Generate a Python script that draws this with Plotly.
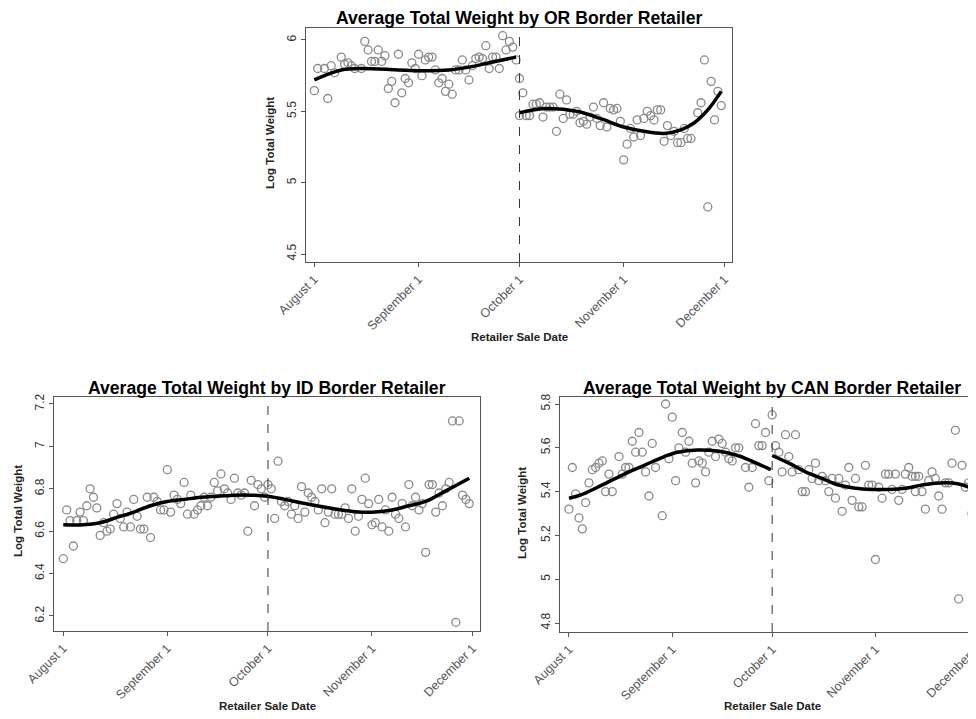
import plotly.graph_objects as go

# ---------------- data (days since August 1) ----------------
month_ticks = [0, 31, 61, 92, 122]
month_labels = ["August 1", "September 1", "October 1", "November 1", "December 1"]
cutoff_day = 61  # October 1

or_day = [0, 1, 3, 4, 5, 6, 8, 9, 10, 11, 12, 14, 15, 16, 17, 18, 19, 20, 21, 22, 23, 24, 25, 26, 27, 28, 29, 30,
          31, 32, 33, 34, 35, 36, 37, 38, 39, 40, 41, 42, 43, 44, 45, 46, 47, 48, 49, 50, 51, 52, 53, 54, 55, 56,
          57, 58, 59, 60, 61, 61, 62, 63, 64, 65, 66, 67, 68, 69, 70, 71, 72, 73, 74, 75, 76, 77, 78, 79, 80, 81,
          82, 83, 84, 85, 86, 87, 88, 89, 90, 91, 92, 93, 94, 95, 96, 97, 98, 99, 100, 101, 102, 103, 104, 105,
          106, 107, 108, 109, 110, 111, 112, 114, 115, 116, 117, 118, 119, 120, 121]
or_val = [5.645, 5.80, 5.80, 5.59, 5.82, 5.77, 5.88, 5.83, 5.84, 5.82, 5.80, 5.80, 5.99, 5.93, 5.85, 5.85, 5.93,
          5.85, 5.89, 5.66, 5.71, 5.56, 5.90, 5.63, 5.73, 5.70, 5.84, 5.80, 5.90, 5.75, 5.86, 5.88, 5.88, 5.79,
          5.70, 5.73, 5.64, 5.69, 5.62, 5.79, 5.79, 5.86, 5.79, 5.72, 5.82, 5.87, 5.88, 5.87, 5.96, 5.80, 5.88,
          5.88, 5.80, 6.03, 5.93, 5.99, 5.95, 5.86, 5.73, 5.47, 5.63, 5.47, 5.47, 5.55, 5.55, 5.56, 5.46, 5.53,
          5.53, 5.53, 5.36, 5.62, 5.45, 5.58, 5.48, 5.48, 5.50, 5.42, 5.43, 5.41, 5.46, 5.53, 5.45, 5.40, 5.56,
          5.39, 5.52, 5.51, 5.52, 5.43, 5.16, 5.27, 5.38, 5.32, 5.44, 5.33, 5.45, 5.50, 5.47, 5.44, 5.51, 5.51,
          5.29, 5.40, 5.33, 5.36, 5.28, 5.28, 5.38, 5.31, 5.31, 5.49, 5.56, 5.86, 4.83, 5.71, 5.44, 5.64, 5.54]
or_fit_pre_day = [0, 3, 8, 14, 25, 32, 40, 46, 52, 60]
or_fit_pre_val = [5.72, 5.75, 5.79, 5.80, 5.79, 5.785, 5.79, 5.81, 5.84, 5.88]
or_fit_post_day = [61, 65, 70, 78, 85, 92, 98, 104, 109, 113, 117, 121]
or_fit_post_val = [5.49, 5.51, 5.52, 5.50, 5.45, 5.39, 5.36, 5.345, 5.37, 5.42, 5.51, 5.64]

id_day = list(range(0, 122))
id_val = [6.47, 6.70, 6.65, 6.53, 6.65, 6.69, 6.65, 6.72, 6.80, 6.76, 6.71, 6.58, 6.64, 6.60, 6.61, 6.68, 6.73,
          6.66, 6.62, 6.69, 6.62, 6.75, 6.67, 6.61, 6.61, 6.76, 6.57, 6.76, 6.74, 6.70, 6.70, 6.89, 6.69, 6.77,
          6.75, 6.73, 6.83, 6.68, 6.77, 6.68, 6.70, 6.72, 6.76, 6.72, 6.76, 6.83, 6.79, 6.87, 6.80, 6.78, 6.75,
          6.85, 6.78, 6.77, 6.78, 6.60, 6.84, 6.72, 6.82, 6.80, 6.76, 6.82, 6.80, 6.66, 6.93, 6.74, 6.72, 6.74,
          6.68, 6.72, 6.66, 6.81, 6.69, 6.78, 6.76, 6.74, 6.70, 6.80, 6.64, 6.69, 6.80, 6.68, 6.68, 6.68, 6.71,
          6.66, 6.80, 6.60, 6.67, 6.75, 6.85, 6.73, 6.63, 6.64, 6.75, 6.62, 6.70, 6.60, 6.76, 6.68, 6.66, 6.73,
          6.62, 6.82, 6.72, 6.76, 6.70, 6.73, 6.50, 6.82, 6.82, 6.69, 6.78, 6.72, 6.80, 6.83, 7.12, 6.17, 7.12,
          6.77, 6.75, 6.73]
id_fit_day = [0, 6, 11, 16, 21, 26, 31, 36, 41, 46, 51, 56, 61, 69, 79, 88, 93, 98, 103, 108, 114, 121]
id_fit_val = [6.63, 6.63, 6.64, 6.665, 6.69, 6.72, 6.74, 6.75, 6.76, 6.765, 6.77, 6.77, 6.765, 6.74, 6.71,
              6.69, 6.69, 6.70, 6.72, 6.74, 6.79, 6.85]

can_day = [0, 1, 2, 3, 4, 5, 6, 7, 8, 9, 10, 11, 12, 13, 15, 16, 17, 18, 19, 20, 21, 22, 23, 24, 25, 26, 28, 29,
           30, 31, 32, 33, 34, 35, 36, 37, 38, 39, 40, 41, 42, 43, 44, 45, 46, 47, 48, 49, 50, 51, 53, 54, 55,
           56, 57, 58, 59, 60, 61, 62, 63, 64, 65, 66, 67, 68, 69, 70, 71, 72, 73, 74, 75, 76, 77, 78, 79, 80,
           81, 82, 83, 84, 85, 86, 87, 88, 89, 90, 91, 92, 93, 94, 95, 96, 97, 98, 99, 100, 101, 102, 103, 104,
           104, 105, 106, 107, 108, 109, 110, 111, 112, 113, 114, 115, 116, 117, 118, 119, 120, 121]
can_val = [5.32, 5.51, 5.39, 5.28, 5.23, 5.35, 5.44, 5.50, 5.51, 5.53, 5.54, 5.40, 5.48, 5.40, 5.56, 5.48, 5.51,
           5.51, 5.63, 5.58, 5.67, 5.58, 5.49, 5.38, 5.62, 5.51, 5.29, 5.80, 5.55, 5.74, 5.45, 5.60, 5.67, 5.58,
           5.63, 5.53, 5.44, 5.54, 5.53, 5.49, 5.58, 5.63, 5.56, 5.64, 5.62, 5.58, 5.55, 5.54, 5.60, 5.60, 5.51,
           5.42, 5.51, 5.71, 5.61, 5.61, 5.67, 5.45, 5.75, 5.61, 5.58, 5.49, 5.66, 5.56, 5.49, 5.66, 5.50, 5.40,
           5.40, 5.50, 5.46, 5.53, 5.45, 5.47, 5.45, 5.40, 5.46, 5.37, 5.46, 5.31, 5.43, 5.51, 5.36, 5.46, 5.33,
           5.33, 5.52, 5.43, 5.43, 5.09, 5.42, 5.37, 5.48, 5.48, 5.41, 5.48, 5.36, 5.41, 5.48, 5.51, 5.47, 5.47,
           5.40, 5.47, 5.40, 5.32, 5.45, 5.49, 5.46, 5.38, 5.32, 5.44, 5.44, 5.53, 5.68, 4.91, 5.52, 5.42, 5.44,
           5.30]
can_fit_pre_day = [0, 3.6, 8.6, 16.6, 22.6, 28.6, 32.6, 38.6, 44.6, 50.6, 54, 60.6]
can_fit_pre_val = [5.37, 5.385, 5.42, 5.48, 5.52, 5.56, 5.58, 5.59, 5.585, 5.565, 5.545, 5.50]
can_fit_post_day = [61, 66, 71, 76, 81, 86, 91, 96, 101, 106, 113, 117, 121]
can_fit_post_val = [5.565, 5.53, 5.49, 5.46, 5.43, 5.415, 5.41, 5.41, 5.415, 5.43, 5.44, 5.435, 5.415]

or_yticks = [4.5, 5, 5.5, 6]
id_yticks = [6.2, 6.4, 6.6, 6.8, 7.0, 7.2]
can_yticks = [4.8, 5.0, 5.2, 5.4, 5.6, 5.8]

# ---------------- figure ----------------
# The page body adds an 8px offset; the figure is sized so it fills the 976x719 window exactly.
OFF = 8
W, H = 976 - OFF, 719 - OFF
FONT = "Liberation Sans, Arial, Helvetica, sans-serif"


def px(x):
    return (x - OFF) / W


def py(y):
    return 1 - (y - OFF) / H


fig = go.Figure()

pt_style = dict(mode="markers", showlegend=False, hoverinfo="skip",
                marker=dict(symbol="circle-open", size=8, color="#8a8a8a", line=dict(width=1.3, color="#8a8a8a")))
fit_style = dict(mode="lines", showlegend=False, hoverinfo="skip",
                 line=dict(color="black", width=3.5, shape="spline", smoothing=1.0))

fig.add_trace(go.Scatter(x=or_day, y=or_val, xaxis="x", yaxis="y", **pt_style))
fig.add_trace(go.Scatter(x=or_fit_pre_day, y=or_fit_pre_val, xaxis="x", yaxis="y", **fit_style))
fig.add_trace(go.Scatter(x=or_fit_post_day, y=or_fit_post_val, xaxis="x", yaxis="y", **fit_style))

fig.add_trace(go.Scatter(x=id_day, y=id_val, xaxis="x2", yaxis="y2", **pt_style))
fig.add_trace(go.Scatter(x=id_fit_day, y=id_fit_val, xaxis="x2", yaxis="y2", **fit_style))

fig.add_trace(go.Scatter(x=can_day, y=can_val, xaxis="x3", yaxis="y3", **pt_style))
fig.add_trace(go.Scatter(x=can_fit_pre_day, y=can_fit_pre_val, xaxis="x3", yaxis="y3", **fit_style))
fig.add_trace(go.Scatter(x=can_fit_post_day, y=can_fit_post_val, xaxis="x3", yaxis="y3", **fit_style))

axis_common = dict(showgrid=False, zeroline=False, showline=True, linecolor="#555555", linewidth=1.2,
                   ticks="outside", ticklen=4, tickcolor="#555555", tickwidth=1, automargin=False)

xcommon = dict(axis_common, tickmode="array", tickvals=month_ticks, ticktext=month_labels, tickangle=-45,
               mirror=True, ticklabeloverflow="allow",
               tickfont=dict(family=FONT, size=12.5, color="#555555"))
ycommon = dict(axis_common, tickmode="array", tickangle=-90,
               tickfont=dict(family=FONT, size=12, color="#333333"))

fig.update_layout(
    width=W, height=H, margin=dict(l=0, r=0, t=0, b=0, autoexpand=False),
    paper_bgcolor="white", plot_bgcolor="white",
    font=dict(family=FONT, color="black"),
    xaxis=dict(xcommon, domain=[px(306), px(732)], range=[-2.48, 124.2], anchor="y"),
    yaxis=dict(ycommon, domain=[py(262), py(28)], range=[4.444, 6.084], anchor="x", mirror=True,
               tickvals=or_yticks, ticktext=[f"{v:g}" for v in or_yticks]),
    xaxis2=dict(xcommon, domain=[px(54), px(480)], range=[-2.77, 124.2], anchor="y2"),
    yaxis2=dict(ycommon, domain=[py(631), py(397)], range=[6.129, 7.233], anchor="x2", mirror=True,
                tickvals=id_yticks, ticktext=[f"{v:g}" for v in id_yticks]),
    xaxis3=dict(xcommon, domain=[px(560), 1.0], range=[-2.7, 122.2], anchor="y3"),
    yaxis3=dict(ycommon, domain=[py(632), py(397)], range=[4.759, 5.832], anchor="x3", mirror=False,
                tickvals=can_yticks, ticktext=[f"{v:g}" for v in can_yticks]),
)

for xr, yr in [("x", "y"), ("x2", "y2"), ("x3", "y3")]:
    fig.add_shape(type="line", xref=xr, yref=f"{yr} domain", x0=cutoff_day, x1=cutoff_day, y0=0, y1=1,
                  line=dict(color="#333333", width=1, dash="dash"))

title_font = dict(family=FONT, size=17.6, color="black")
lab_font = dict(family=FONT, size=11.5, color="#222222")


def ann(text, x, y, font, angle=0):
    fig.add_annotation(text=text, x=px(x), y=py(y), xref="paper", yref="paper", showarrow=False,
                       xanchor="center", yanchor="middle", font=font, textangle=angle)


ann("<b>Average Total Weight by OR Border Retailer</b>", 519, 18, title_font)
ann("<b>Average Total Weight by ID Border Retailer</b>", 267, 388, title_font)
ann("<b>Average Total Weight by CAN Border Retailer</b>", 772, 388, title_font)
ann("<b>Retailer Sale Date</b>", 519, 337, lab_font)
ann("<b>Retailer Sale Date</b>", 267, 706, lab_font)
ann("<b>Retailer Sale Date</b>", 772, 706, lab_font)
ann("<b>Log Total Weight</b>", 270, 143, lab_font, -90)
ann("<b>Log Total Weight</b>", 18, 511, lab_font, -90)
ann("<b>Log Total Weight</b>", 522, 513, lab_font, -90)

fig.write_html("out.html")
